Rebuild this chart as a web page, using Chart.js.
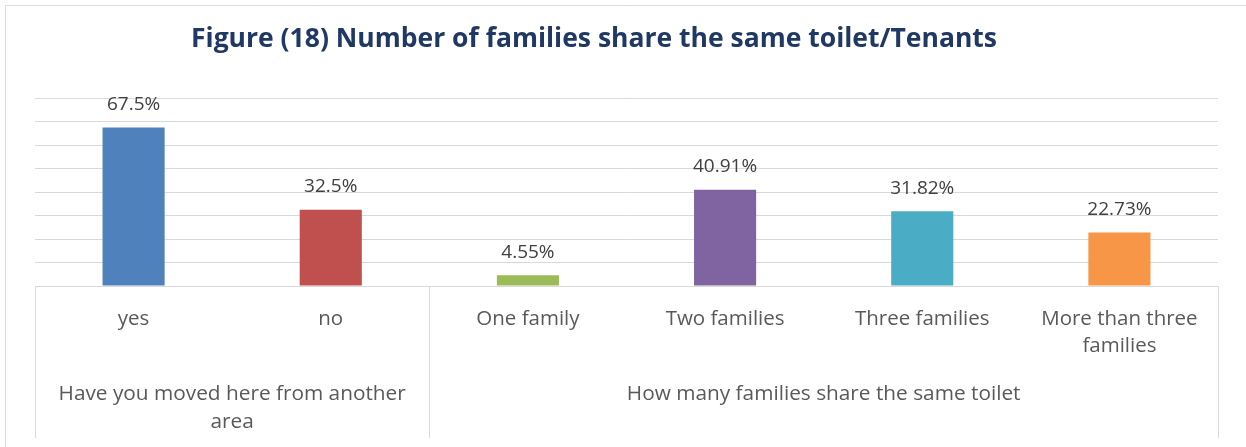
<!DOCTYPE html>
<html>
<head>
<meta charset="utf-8">
<script src="https://cdn.jsdelivr.net/npm/chart.js@4.4.1/dist/chart.umd.min.js"></script>
<style>
  html, body { margin: 0; padding: 0; background: #fff; }
  #wrap { width: 1246px; height: 447px; }
</style>
</head>
<body>
<div id="wrap"><canvas id="chart"></canvas></div>
<script>
const categories = ['yes', 'no', 'One family', 'Two families', 'Three families', ['More than three', 'families']];
const values = [67.5, 32.5, 4.55, 40.91, 31.82, 22.73];
const valueLabels = ['67.5%', '32.5%', '4.55%', '40.91%', '31.82%', '22.73%'];
const groupLabels = [['Have you moved here from another', 'area'], ['How many families share the same toilet']];
const groupSizes = [2, 4];
const barColors = ['#4F81BD', '#C0504D', '#9BBB59', '#8064A2', '#4BACC6', '#F79646'];
const titleText = 'Figure (18) Number of families share the same toilet/Tenants';

const font = '"Open Sans", sans-serif';

// frame, title, value labels, group labels and separators
const extras = {
    id: 'extras',
    afterDraw(chart) {
        const c = chart.ctx;
        const x = chart.scales.x;
        const area = chart.chartArea;
        c.save();

        // outer frame (top + left visible)
        c.strokeStyle = '#d9d9d9';
        c.lineWidth = 1;
        c.beginPath();
        c.moveTo(5.5, 447);
        c.lineTo(5.5, 5.5);
        c.lineTo(1246, 5.5);
        c.stroke();

        // title
        c.fillStyle = '#203864';
        c.font = 'bold 26.5px ' + font;
        c.textAlign = 'center';
        c.textBaseline = 'middle';
        c.fillText(titleText, 594, 39);

        // value labels
        const meta = chart.getDatasetMeta(0);
        c.fillStyle = '#404040';
        c.font = '19px ' + font;
        meta.data.forEach((bar, i) => {
            c.fillText(valueLabels[i], bar.x, bar.y - 23);
        });

        // group separators + labels
        const half = (x.getPixelForValue(1) - x.getPixelForValue(0)) / 2;
        let start = 0;
        const bounds = [x.getPixelForValue(0) - half];
        groupSizes.forEach(n => {
            bounds.push(x.getPixelForValue(start + n - 1) + half);
            start += n;
        });
        c.strokeStyle = '#d9d9d9';
        c.beginPath();
        bounds.forEach(b => {
            const px = Math.round(b) + 0.5;
            c.moveTo(px, area.bottom);
            c.lineTo(px, 438);
        });
        c.stroke();

        c.fillStyle = '#595959';
        c.font = '20.8px ' + font;
        groupLabels.forEach((lines, g) => {
            const cx = (bounds[g] + bounds[g + 1]) / 2;
            lines.forEach((line, k) => {
                c.fillText(line, cx, 394 + k * 28);
            });
        });
        c.restore();
    }
};

new Chart(document.getElementById('chart'), {
    type: 'bar',
    data: {
        labels: categories,
        datasets: [{
            data: values,
            backgroundColor: barColors,
            borderWidth: 0,
            barPercentage: 0.315,
            categoryPercentage: 1
        }]
    },
    options: {
        responsive: true,
        maintainAspectRatio: false,
        animation: false,
        layout: {
            padding: { left: 35, right: 28, top: 98, bottom: 0 }
        },
        plugins: {
            legend: { display: false },
            tooltip: { enabled: false }
        },
        scales: {
            x: {
                grid: { display: false, drawTicks: false },
                border: { display: true, color: '#d9d9d9' },
                ticks: {
                    color: '#595959',
                    font: { family: font, size: 20.5, lineHeight: 1.32 },
                    padding: 20,
                    maxRotation: 0,
                    autoSkip: false
                },
                afterFit(scale) { scale.height = 161; }
            },
            y: {
                min: 0,
                max: 80,
                ticks: { display: false, stepSize: 10 },
                grid: { color: '#d9d9d9', drawTicks: false },
                border: { display: false },
                afterFit(scale) { scale.width = 0; }
            }
        }
    },
    plugins: [extras]
});
</script>
</body>
</html>
